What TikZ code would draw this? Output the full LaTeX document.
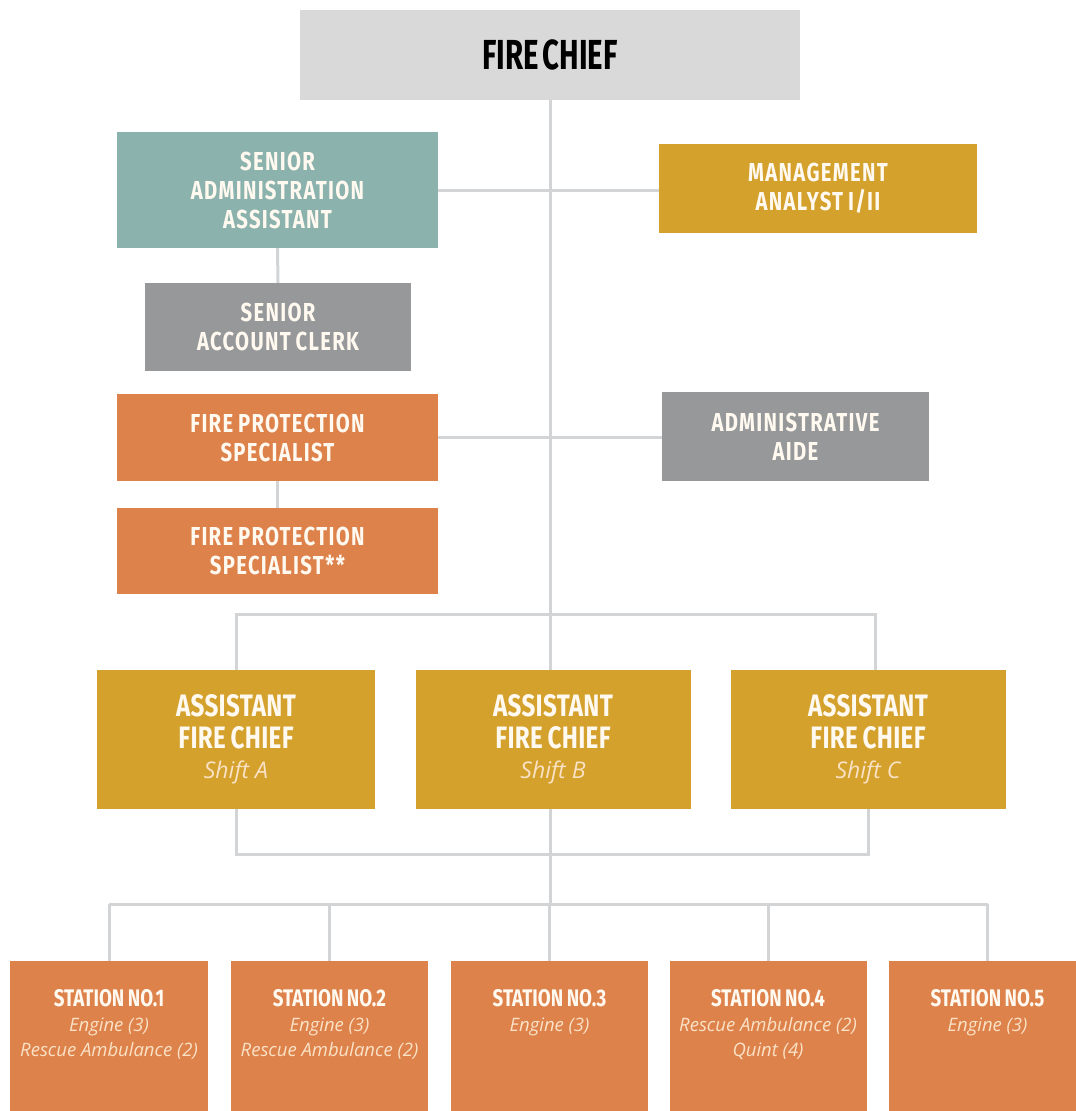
\documentclass[tikz,border=0pt]{standalone}
\usepackage{fontspec}
\newfontfamily\headfont{Fira Sans}[FakeStretch=0.78,WordSpace=0.8]
\newfontfamily\chieffont{Fira Sans}[FakeStretch=0.7,WordSpace=0.5]
\newfontfamily\subfont{Open Sans}
\definecolor{chiefgray}{HTML}{D9D9D9}
\definecolor{tealbox}{HTML}{8CB2AE}
\definecolor{goldbox}{HTML}{D4A12D}
\definecolor{graybox}{HTML}{97989A}
\definecolor{orangebox}{HTML}{DE824C}
\definecolor{linegray}{HTML}{D3D4D6}
\definecolor{boxtext}{HTML}{FFF9F0}
\definecolor{subtext}{HTML}{FAE2C6}

\newcommand{\shiftline}[1]{{\subfont\mdseries\itshape\color{subtext}\fontsize{23}{23}\selectfont Shift #1}}
\newcommand{\sttitle}[1]{{\headfont\bfseries\upshape\color{boxtext}\fontsize{24}{24}\selectfont #1}}

\begin{document}
\begin{tikzpicture}[x=1pt,y=-1pt,
  box/.style={rectangle, inner sep=0pt, align=center, text=boxtext,
    font=\headfont\addfontfeature{LetterSpace=5}\bfseries\fontsize{26}{29}\selectfont},
  afc/.style={box, fill=goldbox, minimum width=275, minimum height=139,
    font=\headfont\addfontfeature{LetterSpace=1}\bfseries\fontsize{31}{32}\selectfont},
  station/.style={box, fill=orangebox, minimum width=197, minimum height=160},
  stlabel/.style={inner sep=0pt, align=center, anchor=north, yshift=-28pt,
    text=subtext, font=\subfont\itshape\fontsize{18.5}{25}\selectfont},
  link/.style={draw=linegray, line width=3pt}]
\useasboundingbox (0,0) rectangle (1076,1111);

% top of the chart
\node[box, fill=chiefgray, text=black, minimum width=500, minimum height=90,
  font=\chieffont\bfseries\fontsize{42}{42}\selectfont] (chief) at (550,55) {FIRE CHIEF};
\node[box, fill=tealbox, minimum width=321, minimum height=116] (saa) at (277.5,190) {SENIOR\\ADMINISTRATION\\ASSISTANT};
\node[box, fill=goldbox, minimum width=318, minimum height=89] (mgmt) at (818,188.5) {MANAGEMENT\\ANALYST I/II};
\node[box, fill=graybox, minimum width=266, minimum height=88] (clerk) at (278,327) {SENIOR\\ACCOUNT CLERK};
\node[box, fill=orangebox, minimum width=321, minimum height=87] (fps) at (277.5,437.5) {FIRE PROTECTION\\SPECIALIST};
\node[box, fill=graybox, minimum width=267, minimum height=89] (aide) at (795.5,436.5) {ADMINISTRATIVE\\AIDE};
\node[box, fill=orangebox, minimum width=321, minimum height=86] (fps2) at (277.5,551) {FIRE PROTECTION\\SPECIALIST**};

% assistant chiefs
\node[afc, minimum width=278] (afca) at (236,739.5) {ASSISTANT\\FIRE CHIEF\\[-2pt]\shiftline{A}};
\node[afc] (afcb) at (553,739.5) {ASSISTANT\\FIRE CHIEF\\[-2pt]\shiftline{B}};
\node[afc] (afcc) at (868,739.5) {ASSISTANT\\FIRE CHIEF\\[-2pt]\shiftline{C}};

% stations
\node[station, minimum width=198, label={[stlabel]north:{\sttitle{STATION NO.1}\\Engine (3)\\Rescue Ambulance (2)}}] (st1) at (109,1041) {};
\node[station, label={[stlabel]north:{\sttitle{STATION NO.2}\\Engine (3)\\Rescue Ambulance (2)}}] (st2) at (329.5,1041) {};
\node[station, label={[stlabel]north:{\sttitle{STATION NO.3}\\Engine (3)}}] (st3) at (549.5,1041) {};
\node[station, label={[stlabel]north:{\sttitle{STATION NO.4}\\Rescue Ambulance (2)\\Quint (4)}}] (st4) at (768,1041) {};
\node[station, label={[stlabel]north:{\sttitle{STATION NO.5}\\Engine (3)}}] (st5) at (987.5,1041) {};

% connectors
\coordinate (topbar) at (550,614);
\coordinate (midbar) at (550,854);
\coordinate (stbar) at (550,904);
\draw[link] (chief.south) -- (chief.south |- afcb.north);
\draw[link] (saa.east) -- (saa.east -| mgmt.west);
\draw[link] (saa.south) -- (clerk.north);
\draw[link] (fps.east) -- (fps.east -| aide.west);
\draw[link] (fps.south) -- (fps2.north);
\draw[link] (afca.north) -- (afca.north |- topbar) -- ([xshift=7pt]afcc.north |- topbar) -- ([xshift=7pt]afcc.north);
\draw[link] (afca.south) -- (afca.south |- midbar) -- (afcc.south |- midbar) -- (afcc.south);
\draw[link] (chief.south |- afcb.south) -- (stbar);
\draw[link] (st1.north |- stbar) -- (st5.north |- stbar);
\foreach \i in {1,...,5}
  \draw[link] (st\i.north |- stbar) -- (st\i.north);
\end{tikzpicture}
\end{document}
